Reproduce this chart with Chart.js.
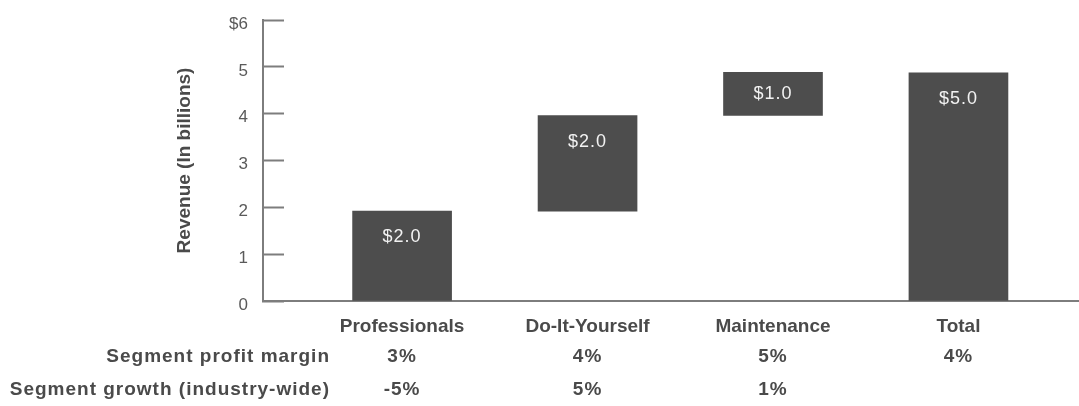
<!DOCTYPE html>
<html>

<head>
    <title>Revenue by segment</title>
    <style>
        body {
            margin: 0;
            background: #ffffff;
        }
    </style>
</head>

<body>
    <div style="width: 1079px; height: 406px">
        <canvas id="revenueChart"></canvas>
    </div>

    <script src="https://cdn.jsdelivr.net/npm/chart.js"></script>

    <script>
        // chart data
        const categories = ['Professionals', 'Do-It-Yourself', 'Maintenance', 'Total'];
        const positions = [1, 2, 3, 4];
        const barStarts = [0, 1.92, 3.96, 0];
        const barEnds = [1.92, 3.96, 4.88, 4.87];
        const barLabels = ['$2.0', '$2.0', '$1.0', '$5.0'];
        const yTickLabels = ['0', '1', '2', '3', '4', '5', '$6'];
        const rowTitles = ['Segment profit margin', 'Segment growth (industry-wide)'];
        const profitMargin = ['3%', '4%', '5%', '4%'];
        const segmentGrowth = ['-5%', '5%', '1%', ''];

        const fontName = "'Liberation Sans', Arial, sans-serif";
        const textColour = '#4a4a4a';
        const axisColour = '#7d7d7d';

        let bardata = []
        for (let i = 0; i < categories.length; i++) {
            bardata.push({ x: positions[i], y: [barStarts[i], barEnds[i]] })
        }

        // white value labels inside the bars + the little table under the axis
        const extraText = {
            id: 'extraText',
            afterDatasetsDraw(chart) {
                const ctx = chart.ctx;
                const meta = chart.getDatasetMeta(0);
                ctx.save();
                ctx.font = '18px ' + fontName;
                ctx.letterSpacing = '1px';
                ctx.fillStyle = '#f2f2f2';
                ctx.textAlign = 'center';
                ctx.textBaseline = 'middle';
                meta.data.forEach((bar, i) => {
                    const top = Math.min(bar.y, bar.base);
                    const bottom = Math.max(bar.y, bar.base);
                    const y = Math.min(top + 26, (top + bottom) / 2);
                    ctx.fillText(barLabels[i], bar.x, y);
                });
                ctx.restore();
            },
            afterDraw(chart) {
                const ctx = chart.ctx;
                const xs = chart.scales.x;
                const base = chart.chartArea.bottom;
                const rows = [profitMargin, segmentGrowth];
                ctx.save();
                ctx.font = 'bold 19px ' + fontName;
                ctx.letterSpacing = '1px';
                ctx.fillStyle = textColour;
                ctx.textBaseline = 'middle';
                rows.forEach((row, r) => {
                    const y = base + 56 + r * 33;
                    ctx.textAlign = 'right';
                    ctx.fillText(rowTitles[r], 330, y);
                    ctx.textAlign = 'center';
                    row.forEach((txt, i) => {
                        ctx.fillText(txt, xs.getPixelForValue(positions[i]), y);
                    });
                });
                ctx.restore();
            }
        };

        const ctx = document.getElementById('revenueChart');
        new Chart(ctx, {
            type: 'bar',
            data: {
                datasets: [{
                    label: 'Revenue',
                    data: bardata,
                    backgroundColor: '#4d4d4d',
                    borderWidth: 0,
                    barThickness: 99
                }]
            },
            options: {
                responsive: true,
                maintainAspectRatio: false,
                animation: false,
                layout: {
                    padding: { left: 173, right: 0, top: 20, bottom: 68 }
                },
                plugins: {
                    legend: { display: false },
                    tooltip: { enabled: false }
                },
                scales: {
                    x: {
                        type: 'linear',
                        offset: false,
                        min: 0.25,
                        max: 4.65,
                        afterBuildTicks: (scale) => {
                            scale.ticks = positions.map(v => ({ value: v }));
                        },
                        afterFit: (scale) => {
                            scale.height = 37;
                            scale.paddingLeft = 0;
                            scale.paddingRight = 0;
                        },
                        grid: { display: false, drawTicks: false },
                        border: { display: true, color: axisColour, width: 2 },
                        ticks: {
                            padding: 14,
                            maxRotation: 0,
                            autoSkip: false,
                            color: textColour,
                            font: { family: fontName, size: 19, weight: 'bold' },
                            callback: (v) => categories[positions.indexOf(v)]
                        }
                    },
                    y: {
                        min: 0,
                        max: 6,
                        afterFit: (scale) => {
                            scale.width = 90;
                            scale.paddingTop = 0;
                            scale.paddingBottom = 0;
                        },
                        grid: {
                            drawOnChartArea: false,
                            drawTicks: true,
                            tickLength: -21,
                            tickWidth: 2,
                            tickColor: axisColour
                        },
                        border: { display: true, color: axisColour, width: 2 },
                        ticks: {
                            stepSize: 1,
                            padding: 36,
                            labelOffset: 4,
                            color: '#5a5a5a',
                            font: { family: fontName, size: 17 },
                            callback: (v) => yTickLabels[v]
                        },
                        title: {
                            display: true,
                            text: 'Revenue (In billions)',
                            color: textColour,
                            padding: 0,
                            font: { family: fontName, size: 19, weight: 'bold' }
                        }
                    }
                }
            },
            plugins: [extraText]
        });
    </script>

</body>

</html>
